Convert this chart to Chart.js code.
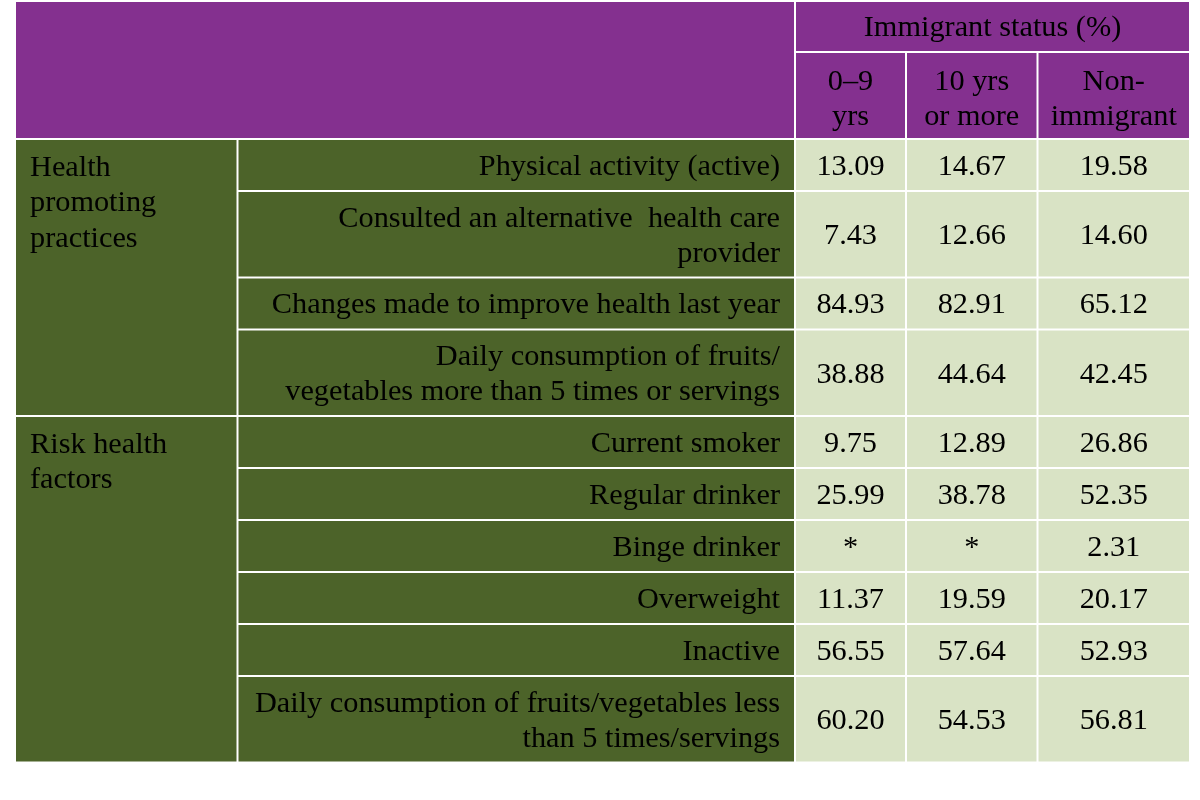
<!DOCTYPE html>
<html>
<head>
<meta charset="utf-8">
<script src="https://cdn.jsdelivr.net/npm/chart.js@4"></script>
<style>
  body { margin: 0; background: #fff; }
  #wrap { width: 1200px; height: 800px; }
</style>
</head>
<body>
<div id="wrap"><canvas id="tableChart" width="1200" height="800"></canvas></div>
<script>
// table content
const headerTitle = 'Immigrant status (%)';
const columnLabels = ['0\u20139\nyrs', '10 yrs\nor more', 'Non-\nimmigrant'];
const groupNames = ['Health\npromoting\npractices', 'Risk health\nfactors'];
const groupSizes = [4, 6];
const rowLabels = [
    'Physical activity (active)',
    'Consulted an alternative  health care\nprovider',
    'Changes made to improve health last year',
    'Daily consumption of fruits/\nvegetables more than 5 times or servings',
    'Current smoker',
    'Regular drinker',
    'Binge drinker',
    'Overweight',
    'Inactive',
    'Daily consumption of fruits/vegetables less\nthan 5 times/servings'
];
// null = suppressed (*)
const recent = [13.09, 7.43, 84.93, 38.88, 9.75, 25.99, null, 11.37, 56.55, 60.20];
const longTerm = [14.67, 12.66, 82.91, 44.64, 12.89, 38.78, null, 19.59, 57.64, 54.53];
const nonImmigrant = [19.58, 14.60, 65.12, 42.45, 26.86, 52.35, 2.31, 20.17, 52.93, 56.81];
const seriesValues = [recent, longTerm, nonImmigrant];

// layout (scale units == px)
const colEdges = [15, 237.5, 795, 906, 1037.5, 1190];
const tableTop = 1;
const headerHeights = [51, 87];
const singleRow = 52, extraLine = 34.5;
const purple = '#84308f', darkGreen = '#4c6329', lightGreen = '#d9e3c5';
const font = '30.3px "Liberation Serif", "Times New Roman", serif';
const lineH = 35;

function fmt(v) { return v === null ? '*' : v.toFixed(2); }

const tablePlugin = {
    id: 'tablePlugin',
    afterDraw(chart) {
        const c = chart.ctx, xs = chart.scales.x, ys = chart.scales.y;
        const X = v => xs.getPixelForValue(v);
        const Y = v => ys.getPixelForValue(v);

        function cell(x0, x1, y0, y1, fill) {
            c.fillStyle = fill;
            c.fillRect(X(x0) + 1, Y(y0) + 1, X(x1) - X(x0) - 2, Y(y1) - Y(y0) - 2);
        }
        function text(str, x, yMid, align) {
            const lines = str.split('\n');
            c.textAlign = align;
            lines.forEach((ln, i) => {
                c.fillText(ln, x, yMid + (i - (lines.length - 1) / 2) * lineH + 2);
            });
        }

        c.save();
        c.font = font;
        c.textBaseline = 'middle';

        // header
        const h1 = tableTop + headerHeights[0];
        const h2 = h1 + headerHeights[1];
        cell(colEdges[0], colEdges[2], tableTop, h2, purple);
        cell(colEdges[2], colEdges[5], tableTop, h1, purple);
        c.fillStyle = '#000';
        text(headerTitle, (X(colEdges[2]) + X(colEdges[5])) / 2, (Y(tableTop) + Y(h1)) / 2, 'center');
        columnLabels.forEach((lab, j) => {
            cell(colEdges[j + 2], colEdges[j + 3], h1, h2, purple);
            c.fillStyle = '#000';
            text(lab, (X(colEdges[j + 2]) + X(colEdges[j + 3])) / 2, (Y(h1) + Y(h2)) / 2 + 2, 'center');
        });

        // body rows
        const rowTops = [];
        let y = h2;
        rowLabels.forEach((lab, i) => {
            const n = lab.split('\n').length;
            const h = singleRow + extraLine * (n - 1);
            rowTops.push([y, y + h]);
            y += h;
        });

        let r = 0;
        groupNames.forEach((g, gi) => {
            const top = rowTops[r][0];
            const bot = rowTops[r + groupSizes[gi] - 1][1];
            cell(colEdges[0], colEdges[1], top, bot, darkGreen);
            c.fillStyle = '#000';
            c.textAlign = 'left';
            g.split('\n').forEach((ln, k) => {
                c.fillText(ln, X(colEdges[0]) + 15, Y(top) + 29 + k * 35.5);
            });
            r += groupSizes[gi];
        });

        rowLabels.forEach((lab, i) => {
            const [t, b] = rowTops[i];
            const mid = (Y(t) + Y(b)) / 2;
            cell(colEdges[1], colEdges[2], t, b, darkGreen);
            c.fillStyle = '#000';
            text(lab, X(colEdges[2]) - 15, mid, 'right');
            seriesValues.forEach((vals, j) => {
                cell(colEdges[j + 2], colEdges[j + 3], t, b, lightGreen);
                c.fillStyle = '#000';
                text(fmt(vals[i]), (X(colEdges[j + 2]) + X(colEdges[j + 3])) / 2, mid, 'center');
            });
        });
        c.restore();
    }
};

new Chart(document.getElementById('tableChart'), {
    type: 'scatter',
    data: { datasets: [] },
    options: {
        responsive: false,
        animation: false,
        layout: { padding: 0 },
        plugins: { legend: { display: false }, tooltip: { enabled: false } },
        scales: {
            x: { type: 'linear', min: 0, max: 1200, display: false },
            y: { type: 'linear', min: 0, max: 800, reverse: true, display: false }
        }
    },
    plugins: [tablePlugin]
});
</script>
</body>
</html>
